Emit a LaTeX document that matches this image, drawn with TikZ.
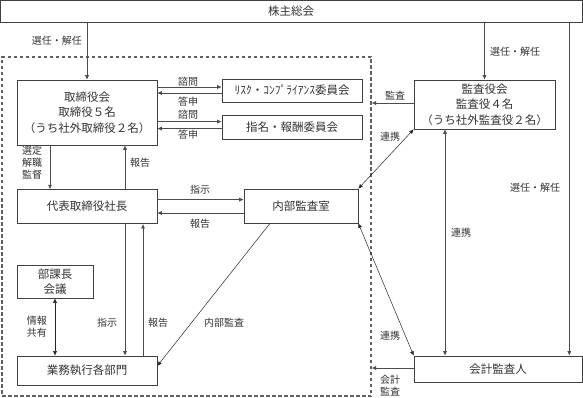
\documentclass[tikz,border=0pt]{standalone}
\usepackage{fontspec}
\setmainfont{Noto Sans CJK JP}
\usetikzlibrary{arrows.meta,positioning}

\tikzset{
  box/.style={draw=black!75, line width=0.6pt, rectangle, inner sep=1pt, align=center,
    font=\fontsize{11.5}{15.5}\selectfont, text=black!80},
  lbl/.style={font=\fontsize{10}{12}\selectfont, text=black!80, inner sep=0pt, align=center},
  arr/.style={draw=black!70, line width=0.6pt, -{Latex[length=4.5pt,width=4pt]}},
  darr/.style={draw=black!85, line width=0.5pt, {Latex[length=4.5pt,width=4pt]}-{Latex[length=4.5pt,width=4pt]}},
}

\begin{document}
\begin{tikzpicture}[x=1pt,y=-1pt]
    \useasboundingbox (0,0) rectangle (583,398);

    % Executive area (dashed)
    \node[draw=black!62, dash pattern=on 3.5pt off 2.5pt, line width=1.1pt, minimum width=369pt, minimum height=339pt, inner sep=0pt] (exec) at (186.5,226.5) {};

    % Shareholders meeting
    \node[box, minimum width=582pt, minimum height=22pt] (agm) at (291,11.5) {株主総会};

    % Board and committees
    \node[box, minimum width=140pt, minimum height=65pt] (board) at (87,112.5) {取締役会\\取締役５名\\（うち社外取締役２名）};
    \node[box, minimum width=140pt, minimum height=23pt] (risk) at (292,90.5) {ﾘｽｸ・ｺﾝﾌﾟﾗｲｱﾝｽ委員会};
    \node[box, minimum width=140pt, minimum height=24pt, below=13pt of risk] (nomin) {指名・報酬委員会};

    % Auditors
    \node[box, minimum width=141pt, minimum height=49pt] (audit) at (484.5,104.5) {監査役会\\監査役４名\\（うち社外監査役２名）};
    \node[box, minimum width=168pt, minimum height=26pt] (acct) at (498,369) {会計監査人};

    % Execution
    \node[box, minimum width=140pt, minimum height=34pt, below=44pt of board] (pres) {代表取締役社長};
    \node[box, minimum width=114pt, minimum height=34pt] (ia) at (301,206) {内部監査室};
    \node[box, minimum width=76pt, minimum height=33pt, font=\fontsize{11.5}{15}\selectfont] (mgr) at (55,281.5) {部課長\\会議};
    \node[box, minimum width=140pt, minimum height=29pt] (ops) at (87,370.5) {業務執行各部門};

    % Appointment
    \draw[arr] (agm.south -| board.north) -- (board.north);
    \node[lbl, anchor=east] (l_app1) at (82,41) {選任・解任};
    \draw[arr] (agm.south -| audit.north) -- (audit.north);
    \node[lbl, anchor=west] (l_app2) at (490,52) {選任・解任};
    \draw[arr] ([xshift=-13pt]acct.north east |- agm.south) -- ([xshift=-13pt]acct.north east);
    \node[lbl] (l_app3) at (535,188) {選任・解任};

    % Board <-> committees
    \draw[arr] ([yshift=3.5pt]risk.west -| board.east) -- ([yshift=3.5pt]risk.west);
    \draw[arr] ([yshift=-2.5pt]risk.west) -- ([yshift=-2.5pt]risk.west -| board.east);
    \draw[arr] ([yshift=6pt]nomin.west -| board.east) -- ([yshift=6pt]nomin.west);
    \draw[arr] ([yshift=-1pt]nomin.west) -- ([yshift=-1pt]nomin.west -| board.east);
    \node[lbl] (l_q1) at (188,82) {諮問};
    \node[lbl] (l_a1) at (188,102) {答申};
    \node[lbl] (l_q2) at (188,115) {諮問};
    \node[lbl] (l_a2) at (188,135) {答申};

    % Board <-> president
    \draw[arr] ([xshift=-37pt]board.south) -- ([xshift=-37pt]pres.north);
    \node[lbl] (l_sel) at (32,163) {選定\\解職\\監督};
    \draw[arr] ([xshift=38pt]pres.north) -- ([xshift=38pt]board.south);
    \node[lbl] (l_rep1) at (140,163) {報告};

    % President <-> internal audit
    \draw[arr] ([yshift=7pt]pres.east) -- ([yshift=7pt]pres.east -| ia.west);
    \node[lbl] (l_ins1) at (200,190) {指示};
    \draw[arr] ([yshift=-7pt]ia.west) -- ([yshift=-7pt]ia.west -| pres.east);
    \node[lbl] (l_rep2) at (200,224) {報告};

    % President <-> departments
    \draw[arr] ([xshift=38pt]pres.south) -- ([xshift=38pt]ops.north);
    \node[lbl] (l_ins2) at (107,323) {指示};
    \draw[arr] ([xshift=56pt]ops.north) -- ([xshift=56pt]pres.south);
    \node[lbl] (l_rep3) at (158,323) {報告};
    \draw[darr] (mgr.south) -- (mgr.south |- ops.north);
    \node[lbl] (l_info) at (37,327) {情報\\共有};

    % Internal audit
    \draw[arr, draw=black!85, line width=0.5pt] ([xshift=-31pt]ia.south) -- ([yshift=4.5pt]ops.east);
    \node[lbl] (l_ia) at (224,323) {内部監査};

    % Cooperation and audits
    \draw[darr] (audit.south west) -- (ia.north east);
    \node[lbl] (l_co1) at (390,137) {連携};
    \draw[arr] ([yshift=1.5pt]audit.west) -- ([yshift=1.5pt]audit.west -| exec.east);
    \node[lbl] (l_aud) at (395,96) {監査};
    \draw[darr, draw=black!70, line width=0.6pt] ([xshift=-39.5pt]audit.south) -- ([xshift=-39.5pt]audit.south |- acct.north);
    \node[lbl] (l_co2) at (461,233) {連携};
    \draw[darr] (ia.south east) -- (acct.north west);
    \node[lbl] (l_co3) at (390,336) {連携};
    \draw[arr] ([yshift=1pt]acct.west) -- ([yshift=1pt]acct.west -| exec.east);
    \node[lbl] (l_acc) at (390,386) {会計\\監査};
\end{tikzpicture}
\end{document}
